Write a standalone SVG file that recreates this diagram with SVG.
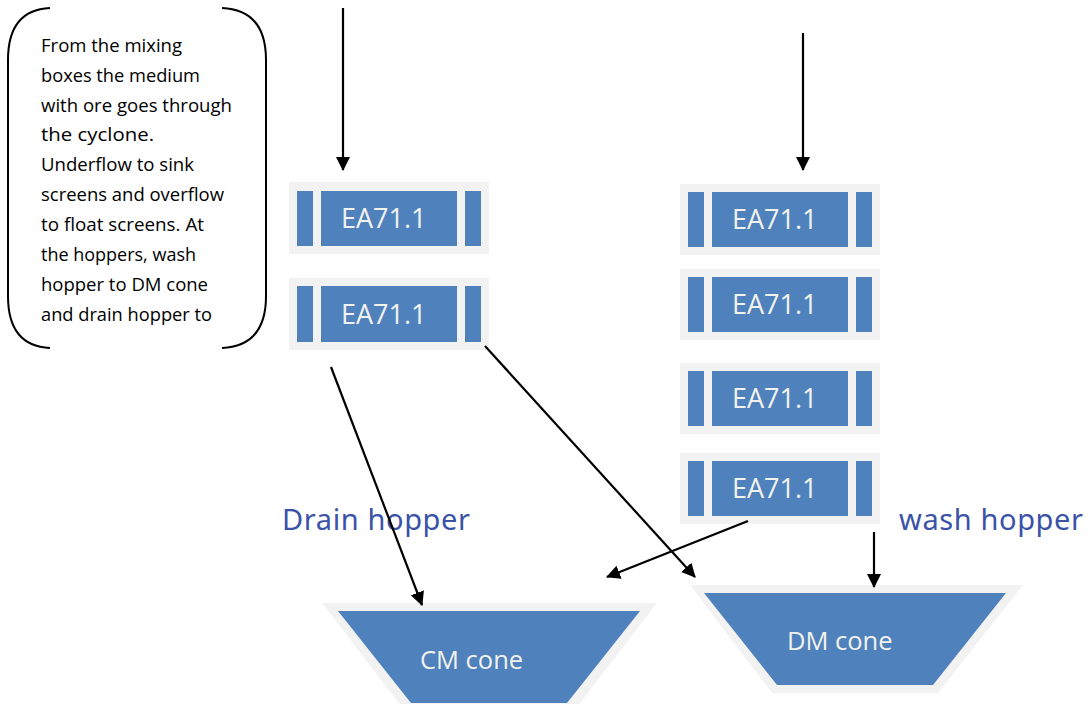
<svg xmlns="http://www.w3.org/2000/svg" width="1088" height="704" viewBox="0 0 1088 704">
<style>
.outer{fill:#f2f2f2}
.blue{fill:#4f81bd}
.lbl{font-family:"Open Sans","Liberation Sans",sans-serif;font-size:27px;fill:#f2f2ec}
.cone{font-family:"Open Sans","Liberation Sans",sans-serif;font-size:25.5px;fill:#f2f2ec}
.note{font-family:"Open Sans","Liberation Sans",sans-serif;font-size:18px;fill:#000}
.hop{font-family:"Noto Sans","Liberation Sans",sans-serif;font-size:29px;fill:#3a52a8}
.conn{stroke:#000;stroke-width:2.2;fill:none;marker-end:url(#ah)}
.br{stroke:#000;stroke-width:2;fill:none}
</style>
<defs>
<marker id="ah" viewBox="0 0 14 14" refX="13" refY="7" markerWidth="14" markerHeight="14" markerUnits="userSpaceOnUse" orient="auto">
<path d="M0,0 L14,7 L0,14 z" fill="#000"/>
</marker>
</defs>
<rect width="1088" height="704" fill="#fff"/>

<g id="note">
<path class="br" d="M50,8 Q8,10 8,60 L8,296 Q8,346 50,348"/>
<path class="br" d="M222,8 Q266,10 266,60 L266,296 Q266,346 222,348"/>
<text class="note" x="41" y="52" textLength="141" lengthAdjust="spacingAndGlyphs">From the mixing</text>
<text class="note" x="41" y="82" textLength="159" lengthAdjust="spacingAndGlyphs">boxes the medium</text>
<text class="note" x="41" y="112" textLength="191" lengthAdjust="spacingAndGlyphs">with ore goes through</text>
<text class="note" x="41" y="141" textLength="113" lengthAdjust="spacingAndGlyphs">the cyclone.</text>
<text class="note" x="41" y="171" textLength="153" lengthAdjust="spacingAndGlyphs">Underflow to sink</text>
<text class="note" x="41" y="201" textLength="183" lengthAdjust="spacingAndGlyphs">screens and overflow</text>
<text class="note" x="41" y="231" textLength="163" lengthAdjust="spacingAndGlyphs">to float screens. At</text>
<text class="note" x="41" y="261" textLength="155" lengthAdjust="spacingAndGlyphs">the hoppers, wash</text>
<text class="note" x="41" y="291" textLength="167" lengthAdjust="spacingAndGlyphs">hopper to DM cone</text>
<text class="note" x="41" y="321" textLength="171" lengthAdjust="spacingAndGlyphs">and drain hopper to</text>
</g>

<g id="screen-l1">
<rect class="outer" x="289" y="182" width="200" height="72"/>
<rect class="blue" x="297" y="191" width="16" height="55"/>
<rect class="blue" x="321" y="191" width="136" height="55"/>
<rect class="blue" x="465" y="191" width="16" height="55"/>
<text class="lbl" x="341" y="228">EA71.1</text>
</g>
<g id="screen-l2">
<rect class="outer" x="289" y="278" width="200" height="72"/>
<rect class="blue" x="297" y="286" width="16" height="56"/>
<rect class="blue" x="321" y="286" width="136" height="56"/>
<rect class="blue" x="465" y="286" width="16" height="56"/>
<text class="lbl" x="341" y="324">EA71.1</text>
</g>
<g id="screen-r1">
<rect class="outer" x="680" y="184" width="200" height="71"/>
<rect class="blue" x="688" y="192" width="16" height="55"/>
<rect class="blue" x="712" y="192" width="136" height="55"/>
<rect class="blue" x="856" y="192" width="16" height="55"/>
<text class="lbl" x="732" y="229">EA71.1</text>
</g>
<g id="screen-r2">
<rect class="outer" x="680" y="269" width="200" height="71"/>
<rect class="blue" x="688" y="277" width="16" height="55"/>
<rect class="blue" x="712" y="277" width="136" height="55"/>
<rect class="blue" x="856" y="277" width="16" height="55"/>
<text class="lbl" x="732" y="314">EA71.1</text>
</g>
<g id="screen-r3">
<rect class="outer" x="680" y="363" width="200" height="71"/>
<rect class="blue" x="688" y="371" width="16" height="55"/>
<rect class="blue" x="712" y="371" width="136" height="55"/>
<rect class="blue" x="856" y="371" width="16" height="55"/>
<text class="lbl" x="732" y="408">EA71.1</text>
</g>
<g id="screen-r4">
<rect class="outer" x="680" y="453" width="200" height="71"/>
<rect class="blue" x="688" y="461" width="16" height="55"/>
<rect class="blue" x="712" y="461" width="136" height="55"/>
<rect class="blue" x="856" y="461" width="16" height="55"/>
<text class="lbl" x="732" y="498">EA71.1</text>
</g>

<g id="cm-cone">
<path class="outer" d="M322,603 L657,603 L574,711 L405,711 z"/>
<path class="blue" d="M338,611 L640,611 L567,703 L411,703 z"/>
<text class="cone" x="420" y="669">CM cone</text>
</g>
<g id="dm-cone">
<path class="outer" d="M690,585 L1023,585 L938,693 L772,693 z"/>
<path class="blue" d="M704,593 L1006,593 L933,685 L777,685 z"/>
<text class="cone" x="787" y="650">DM cone</text>
</g>

<g id="label-drain"><text class="hop" x="282" y="530" textLength="188">Drain hopper</text></g>
<g id="label-wash"><text class="hop" x="899" y="530" textLength="184">wash hopper</text></g>

<g id="connectors">
<line class="conn" x1="343" y1="8" x2="343" y2="170"/>
<line class="conn" x1="803" y1="33" x2="803" y2="170"/>
<line class="conn" x1="331" y1="367" x2="422" y2="605"/>
<line class="conn" x1="485" y1="346" x2="695" y2="577"/>
<line class="conn" x1="748" y1="521" x2="607" y2="577"/>
<line class="conn" x1="874" y1="532" x2="874" y2="587"/>
</g>
</svg>
